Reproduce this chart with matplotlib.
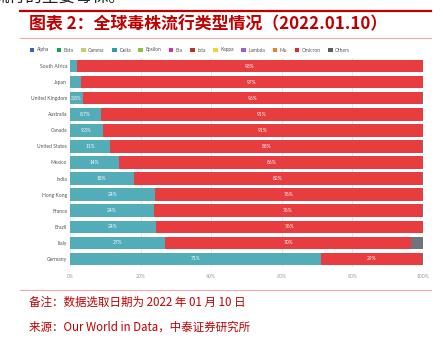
import matplotlib
matplotlib.use("Agg")
import matplotlib.pyplot as plt
from matplotlib.lines import Line2D
from matplotlib.patches import Patch
import numpy as np

plt.rcParams['font.family'] = ['Lato', 'Noto Sans CJK SC', 'DejaVu Sans']

countries = ["South Africa", "Japan", "United Kingdom", "Australia", "Canada",
             "United States", "Mexico", "India", "Hong Kong", "France",
             "Brazil", "Italy", "Germany"]
delta = [2.0, 3.0, 3.8, 8.7, 9.3, 11.4, 14.0, 18.0, 24.0, 23.8, 24.3, 27.0, 71.0]
omicron = [98.0, 97.0, 96.0, 91.3, 90.7, 88.3, 86.0, 81.6, 76.0, 75.9, 75.7, 69.7, 28.6]
others = [0.0, 0.0, 0.2, 0.0, 0.0, 0.3, 0.0, 0.4, 0.0, 0.3, 0.0, 3.3, 0.4]

legend_names = ["Alpha", "Beta", "Gamma", "Delta", "Epsilon", "Eta", "Iota",
                "Kappa", "Lambda", "Mu", "Omicron", "Others"]
legend_colors = ["#3a63ad", "#0aa84a", "#bcd36a", "#2f9cab", "#86c440", "#d92ca3",
                 "#b5381a", "#f3d42c", "#9a5fd8", "#f47d1f", "#e8262b", "#575c66"]

xticks = [0, 20, 40, 60, 80, 100]
xtick_labels = ["0%", "20%", "40%", "60%", "80%", "100%"]

title = "图表 2：全球毒株流行类型情况（2022.01.10）"
note1 = "备注：数据选取日期为 2022 年 01 月 10 日"
note2 = "来源：Our World in Data，中泰证券研究所"
top_text = "流行的主要毒株。"

W, H = 443, 339
fig = plt.figure(figsize=(W / 100, H / 100), dpi=100)
fig.patch.set_facecolor("white")

ax = fig.add_axes([70 / W, 1 - 267 / H, 353 / W, 209 / H])
y = np.arange(len(countries))
d = np.array(delta)
o = np.array(omicron)
r = np.array(others)

c_delta = "#52adb8"
c_omi = "#e83d40"
c_oth = "#6f737b"
bh = 0.78
ax.barh(y, d, height=bh, color=c_delta, zorder=2)
ax.barh(y, o, left=d, height=bh, color=c_omi, zorder=2)
ax.barh(y, r, left=d + o, height=bh, color=c_oth, zorder=2)

def fmt(v):
    return f"{v:.2g}%"

for i in range(len(countries)):
    if d[i] >= 3.5:
        ax.text(d[i] / 2, y[i], fmt(d[i]), ha="center", va="center",
                color="white", fontsize=3.5, zorder=3)
    if o[i] >= 3.5:
        ax.text(d[i] + o[i] / 2, y[i], fmt(o[i]), ha="center", va="center",
                color="white", fontsize=3.5, zorder=3)

ax.set_xlim(0, 100)
ax.set_ylim(len(countries) - 0.5, -0.5)
ax.set_yticks(y)
ax.set_yticklabels(countries, fontsize=3.6, color="#555555")
ax.set_xticks(xticks)
ax.set_xticklabels(xtick_labels, fontsize=3.7, color="#999999")
ax.tick_params(axis="both", length=0, pad=2)
ax.tick_params(axis="x", pad=5)
for s in ax.spines.values():
    s.set_visible(False)
ax.grid(axis="x", color="#e4e4e4", lw=0.6, zorder=0)
ax.set_axisbelow(True)

handles = [Patch(facecolor=c, edgecolor="none") for c in legend_colors]
fig.legend(handles, legend_names, loc="center left",
           bbox_to_anchor=(28 / W, 1 - 50 / H), ncol=12, frameon=False,
           fontsize=3.5, handlelength=0.9, handleheight=0.9,
           handletextpad=0.5, columnspacing=1.6, borderaxespad=0,
           labelcolor="#555555")

# decorative lines
fig.add_artist(Line2D([20 / W, 431 / W], [1 - 11.3 / H] * 2, color="#c00000", lw=1.6))
fig.add_artist(Line2D([20 / W, 431 / W], [1 - 38 / H] * 2, color="#f0a8a8", lw=0.8))
fig.add_artist(Line2D([20 / W, 431 / W], [1 - 290 / H] * 2, color="#f0a8a8", lw=0.8))

fig.text(29 / W, 1 - 24.5 / H, title, fontsize=12.2, fontweight="bold",
         style="italic", color="#c00000", va="center", ha="left",
         family=["Noto Sans CJK SC", "DejaVu Sans"])
fig.text(-8 / W, 1 - 2 / H, top_text, fontsize=12, color="#222222",
         va="baseline", ha="left", family=["Noto Sans CJK SC", "DejaVu Sans"])
fig.text(29 / W, 1 - 302 / H, note1, fontsize=8.3, color="#c00000",
         va="center", ha="left", family=["Noto Sans CJK SC", "DejaVu Sans"])
fig.text(29 / W, 1 - 327 / H, note2, fontsize=8.3, color="#c00000",
         va="center", ha="left", family=["Noto Sans CJK SC", "DejaVu Sans"])

fig.savefig("out.png", dpi=100, facecolor="white")
